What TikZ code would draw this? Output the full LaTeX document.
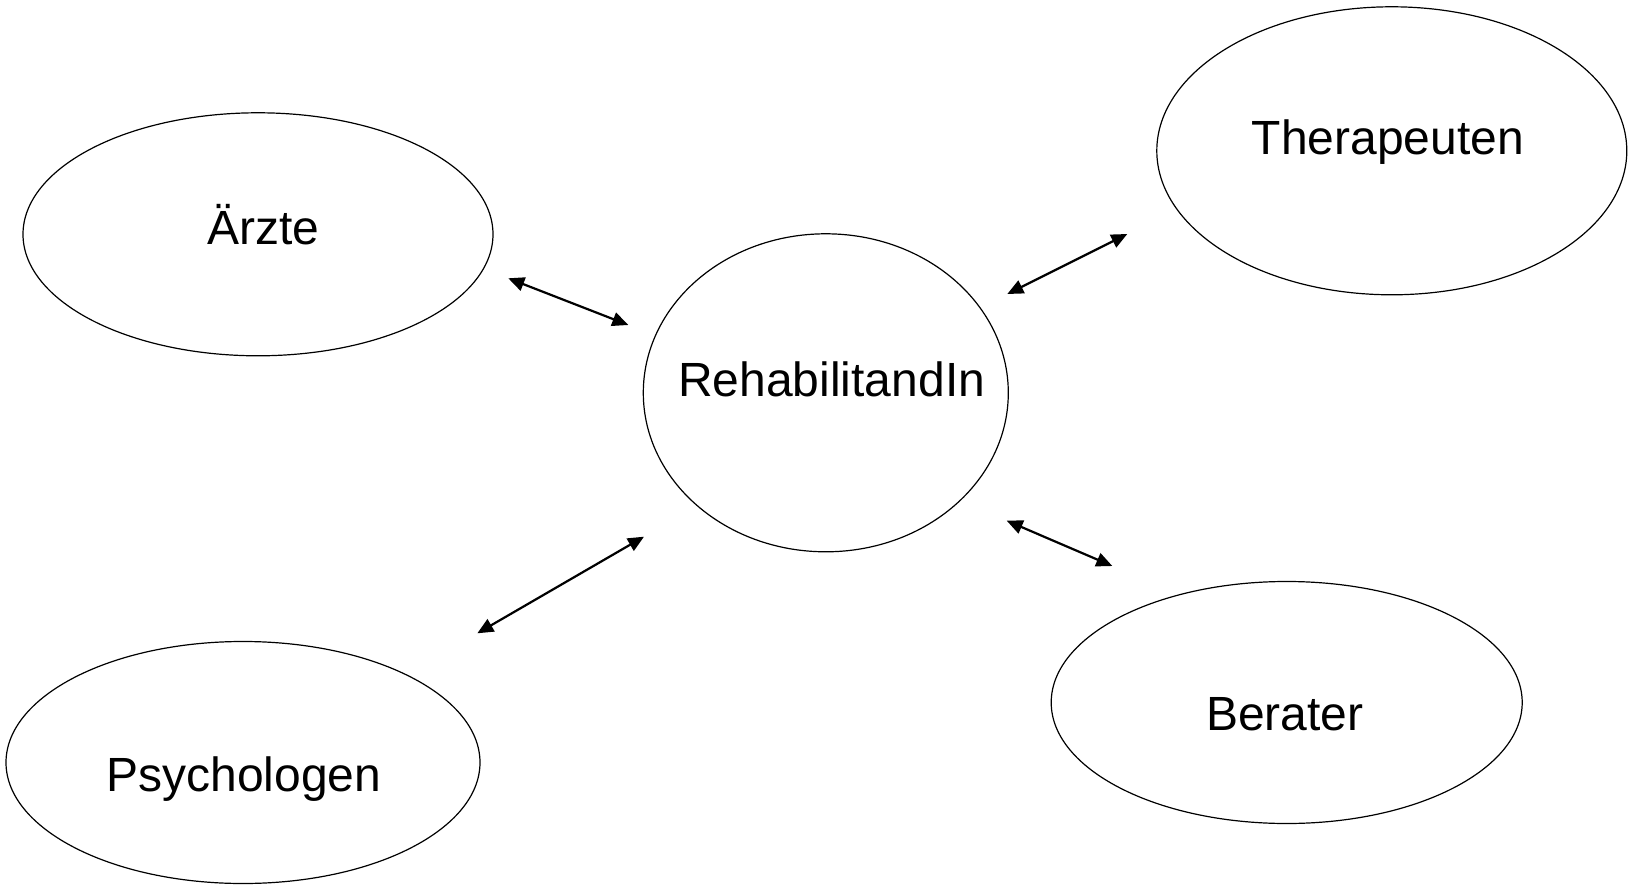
\documentclass[tikz,border=0pt]{standalone}
\usepackage{fontspec}
\setmainfont{Liberation Sans}
\usetikzlibrary{shapes.geometric,arrows.meta}
\tikzset{
  blob/.style={draw=black, line width=1.2pt, ellipse, inner sep=0pt},
  lbl/.style={anchor=base, inner sep=0pt, font=\fontsize{48}{57}\selectfont},
  link/.style={line width=2.2pt, {Triangle[length=16pt,width=14pt]}-{Triangle[length=16pt,width=14pt]}}
}
\begin{document}
\begin{tikzpicture}[x=1pt,y=-1pt]
\useasboundingbox (0,0) rectangle (1633,885);
\fill[white] (0,0) rectangle (1633,885);
% ellipses
\node[blob, minimum width=470pt, minimum height=243pt] (aerzte) at (258,234.3) {};
\node[blob, minimum width=470pt, minimum height=288pt] (thera) at (1391.8,150.8) {};
\node[blob, minimum width=365pt, minimum height=318pt] (reha) at (825.8,392.8) {};
\node[blob, minimum width=474pt, minimum height=242pt] (psych) at (243,762.5) {};
\node[blob, minimum width=471pt, minimum height=242pt] (berat) at (1286.7,702.5) {};
% labels
\node[lbl] (taerzte) at (263.5,245) {Ärzte};
\node[lbl] (tthera) at (1388,155) {Therapeuten};
\node[lbl] (treha) at (831.7,396.7) {RehabilitandIn};
\node[lbl] (tpsych) at (244,791) {Psychologen};
\node[lbl] (tberat) at (1284.7,730) {Berater};
% arrow end points
\coordinate (a1) at (508.3,278.3);
\coordinate (a2) at (628.3,325);
\coordinate (b1) at (1007.3,294);
\coordinate (b2) at (1127.3,234);
\coordinate (c1) at (477.3,633.3);
\coordinate (c2) at (644,536.7);
\coordinate (d1) at (1006.7,520.7);
\coordinate (d2) at (1112.3,566);
\draw[link] (a1) -- (a2);
\draw[link] (b1) -- (b2);
\draw[link] (c1) -- (c2);
\draw[link] (d1) -- (d2);
\end{tikzpicture}
\end{document}
